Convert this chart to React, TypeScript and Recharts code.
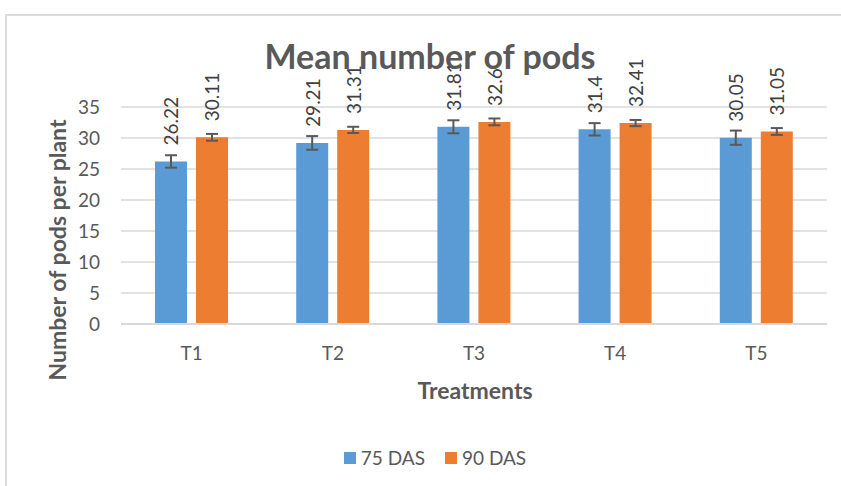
import { BarChart, Bar, XAxis, YAxis, CartesianGrid, ErrorBar, LabelList } from "recharts";

const categories = ["T1", "T2", "T3", "T4", "T5"];
const das75 = [26.22, 29.21, 31.81, 31.4, 30.05];
const das90 = [30.11, 31.31, 32.6, 32.41, 31.05];
const err75 = [1.0, 1.1, 1.05, 1.0, 1.15];
const err90 = [0.55, 0.5, 0.55, 0.5, 0.55];
const yTicks = [0, 5, 10, 15, 20, 25, 30, 35];

const series = [
  { key: "das75", err: "err75", name: "75 DAS", color: "#5B9BD5" },
  { key: "das90", err: "err90", name: "90 DAS", color: "#ED7D31" },
];

const data = categories.map((name, i) => ({
  name,
  das75: das75[i],
  das90: das90[i],
  err75: err75[i],
  err90: err90[i],
}));

const TEXT = "#595959";
const FONT = "Lato, 'Open Sans', sans-serif";

// rotated value label sitting above the bar
const ValueLabel = (props: any) => {
  const { x, y, width, value } = props;
  const cx = x + width / 2;
  const ty = y - 16;
  return (
    <text
      x={cx}
      y={ty}
      transform={`rotate(-90, ${cx}, ${ty})`}
      textAnchor="start"
      dominantBaseline="central"
      fill="#404040"
      fontSize={19}
      fontFamily={FONT}
    >
      {value}
    </text>
  );
};

const App = () => {
  return (
    <div
      style={{
        position: "fixed",
        left: 0,
        top: 0,
        width: 841,
        height: 486,
        overflow: "hidden",
        background: "#fff",
        fontFamily: FONT,
      }}
    >
      <div
        style={{
          position: "absolute",
          left: 5,
          top: 14,
          width: 1000,
          height: 1000,
          border: "2px solid #dcdcdc",
        }}
      />
      <div style={{ position: "absolute", left: 0, top: 0 }}>
        <BarChart
          width={841}
          height={486}
          data={data}
          margin={{ top: 107, right: 14, bottom: 132, left: 61 }}
          barCategoryGap="24%"
          barGap={9}
        >
          <CartesianGrid vertical={false} stroke="#d9d9d9" strokeWidth={1.5} />
          <XAxis
            dataKey="name"
            height={30}
            axisLine={{ stroke: "#d9d9d9", strokeWidth: 2 }}
            tickLine={false}
            tickSize={0}
            tickMargin={23}
            tick={{ fill: TEXT, fontSize: 19, fontFamily: FONT }}
          />
          <YAxis
            width={60}
            domain={[0, 35]}
            ticks={yTicks}
            axisLine={false}
            tickLine={false}
            tickSize={0}
            tickMargin={21}
            tick={{ fill: TEXT, fontSize: 19, fontFamily: FONT }}
          />
          {series.map((s) => (
            <Bar key={s.key} dataKey={s.key} name={s.name} fill={s.color} barSize={32} isAnimationActive={false}>
              <ErrorBar dataKey={s.err} width={6} strokeWidth={2} stroke={TEXT} direction="y" />
              <LabelList dataKey={s.key} content={<ValueLabel />} />
            </Bar>
          ))}
        </BarChart>
      </div>
      <div
        style={{
          position: "absolute",
          left: 0,
          width: 860,
          top: 35,
          textAlign: "center",
          fontSize: 34,
          fontWeight: 700,
          color: TEXT,
        }}
      >
        Mean number of pods
      </div>
      <div
        style={{
          position: "absolute",
          left: 57,
          top: 250,
          transform: "translate(-50%, -50%) rotate(-90deg)",
          whiteSpace: "nowrap",
          fontSize: 23,
          fontWeight: 700,
          color: TEXT,
        }}
      >
        Number of pods per plant
      </div>
      <div
        style={{
          position: "absolute",
          left: 475,
          top: 390,
          transform: "translate(-50%, -50%)",
          whiteSpace: "nowrap",
          fontSize: 23,
          fontWeight: 700,
          color: TEXT,
        }}
      >
        Treatments
      </div>
      <div
        style={{
          position: "absolute",
          left: 0,
          width: 870,
          top: 446,
          display: "flex",
          justifyContent: "center",
          gap: 20,
          fontSize: 19,
          color: TEXT,
        }}
      >
        {series.map((s) => (
          <div key={s.key} style={{ display: "flex", alignItems: "center", gap: 5 }}>
            <span style={{ width: 12, height: 12, background: s.color, display: "inline-block" }} />
            <span>{s.name}</span>
          </div>
        ))}
      </div>
    </div>
  );
};

export default App;
